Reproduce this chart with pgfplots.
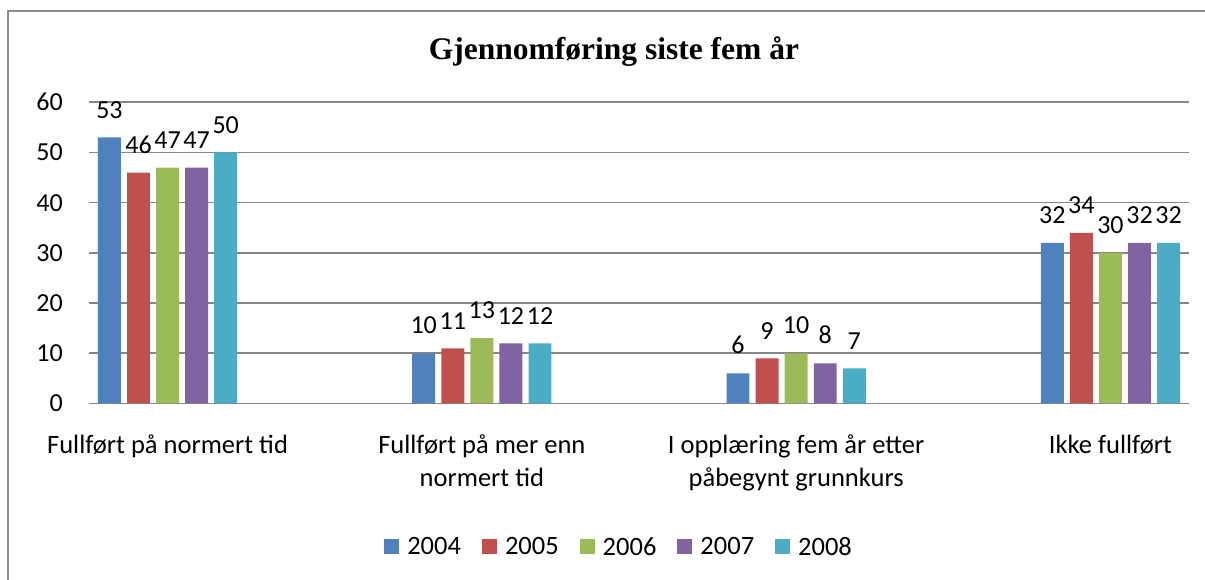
\documentclass[border=0pt]{standalone}
\usepackage{pgfplots}
\pgfplotsset{compat=1.18}
\usepackage{fontspec}
\setmainfont{Carlito}
\newfontfamily\titlefont{Liberation Serif}
\definecolor{cA}{HTML}{4F81BD}
\definecolor{cB}{HTML}{C0504D}
\definecolor{cC}{HTML}{9BBB59}
\definecolor{cD}{HTML}{8064A2}
\definecolor{cE}{HTML}{4BACC6}
\definecolor{gridc}{HTML}{868686}
\definecolor{framec}{HTML}{8C8C8C}
\begin{document}
\begin{tikzpicture}[x=1pt,y=1pt]
\useasboundingbox (0,0) rectangle (1205,580);
\draw[color=framec, line width=2pt] (8,0) -- (8,569) -- (1205,569);
\node[font=\titlefont\bfseries\fontsize{31.5}{36}\selectfont, inner sep=0pt] at (614,528) {Gjennomføring siste fem år};
\begin{axis}[
  at={(89pt,176.5pt)}, anchor=south west,
  scale only axis, width=1100pt, height=301.2pt,
  xmin=-0.25, xmax=3.25, ymin=0, ymax=60,
  ytick={0,10,...,60},
  xtick={0,1,2,3},
  xticklabels={Fullført på normert tid, {Fullført på mer enn\\normert tid}, {I opplæring fem år etter\\påbegynt grunnkurs}, Ikke fullført},
  ymajorgrids,
  grid style={line width=1.6pt, color=gridc},
  axis line style={draw=none},
  major tick length=0pt,
  /pgf/number format/assume math mode=true,
  yticklabel style={font=\fontsize{26}{30}\selectfont, anchor=east, inner sep=0pt, xshift=-26pt},
  xticklabel style={font=\fontsize{26.5}{33}\selectfont, align=center, anchor=north, inner sep=0pt, yshift=-31pt},
  ybar, bar width=0.073,
  nodes near coords,
  every node near coord/.append style={font=\fontsize{26}{30}\selectfont, color=black, inner sep=0pt, anchor=south, yshift=19pt},
  legend columns=5,
  legend image code/.code={\fill[#1,draw=none] (0pt,-7.5pt) rectangle (15pt,7.5pt);},
  legend style={at={(0.481,-0.476)}, anchor=center, draw=none, font=\fontsize{26.5}{30}\selectfont,
    nodes={inner sep=0pt},
    /tikz/every odd column/.append style={column sep=8pt},
    /tikz/every even column/.append style={column sep=21pt}},
]
\addplot[fill=cA, draw=none, bar shift=-0.185] coordinates {(0,53) (1,10) (2,6) (3,32)};
\addplot[fill=cB, draw=none, bar shift=-0.0925] coordinates {(0,46) (1,11) (2,9) (3,34)};
\addplot[fill=cC, draw=none, bar shift=0] coordinates {(0,47) (1,13) (2,10) (3,30)};
\addplot[fill=cD, draw=none, bar shift=0.0925] coordinates {(0,47) (1,12) (2,8) (3,32)};
\addplot[fill=cE, draw=none, bar shift=0.185] coordinates {(0,50) (1,12) (2,7) (3,32)};
\legend{2004,2005,2006,2007,2008}
\end{axis}
\end{tikzpicture}
\end{document}
